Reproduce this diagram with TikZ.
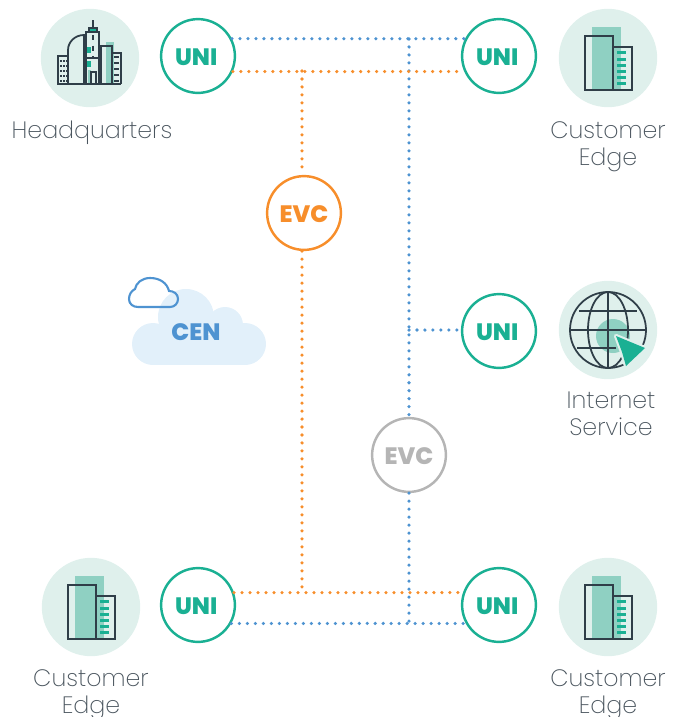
\documentclass[tikz,border=0pt]{standalone}
\usepackage{fontspec}
\setmainfont{Poppins ExtraLight}[BoldFont=Poppins ExtraBold]
\usetikzlibrary{positioning}

\definecolor{uniteal}{HTML}{1AB093}
\definecolor{disc}{HTML}{DFF0EC}
\definecolor{midteal}{HTML}{8FD0C2}
\definecolor{ink}{HTML}{2F3E48}
\definecolor{labelgrey}{HTML}{4A555E}
\definecolor{evcorange}{HTML}{F78E2B}
\definecolor{evcgrey}{HTML}{B5B5B5}
\definecolor{cenblue}{HTML}{4E93D1}
\definecolor{cloudfill}{HTML}{E2F0FA}

\newcommand{\unilbl}{UNI\kern2pt}

\tikzset{
	badge/.style={circle,draw,fill=white,line width=1.4pt,minimum size=42pt,inner sep=0pt,text height=10.4pt,text depth=0pt,font=\bfseries\fontsize{13.5}{13.5}\selectfont},
	uni/.style={badge,draw=uniteal,text=uniteal},
	iconbg/.style={circle,fill=disc,minimum size=56pt,inner sep=0pt},
	lbl/.style={text=labelgrey,align=center,font=\fontsize{13.5}{15.5}\selectfont},
	bluedots/.style={cenblue,line width=2pt,line cap=round,dash pattern=on 0pt off 4.55pt},
	orangedots/.style={bluedots,evcorange},
	towers/.pic={
		\fill [midteal] (-16,-31) rectangle (13,32);
		\draw [ink,line width=1pt] (-23,-22) rectangle (5,32);
		\draw [ink,line width=1pt] (5,-11) rectangle (24,32);
		\foreach \y in {-6,1,7,13,19,25}
			\fill [uniteal] (9,\y-1.5) rectangle (18,\y+1.5);
	},
	city/.pic={
		% teal behind
		\fill [midteal] (16,-16) rectangle (24,26);
		\fill [uniteal] (-3,-11) rectangle (1,-5);
		\fill [uniteal] (-3,3) rectangle (1,9);
		\fill [midteal] (-2,12) rectangle (1,26);
		\begin{scope}[ink,line width=1pt]
		\draw (-33,26) -- (31,26);
		\draw (-32,26) -- (-32,-2) -- (-22,-2) -- (-22,26);
		\draw (-22,26) -- (-22,-8) .. controls (-22,-16) and (-15,-23) .. (-6,-23) -- (-6,26);
		\draw (-4,26) -- (-4,-26) -- (9,-26) -- (9,26);
		\draw [fill=uniteal] (-1,-30) rectangle (7,-26);
		\draw (3,-38) -- (3,-30);
		\draw [dashed] (3,-23) -- (3,0);
		\draw (-6,0) -- (11,0);
		\draw (1,26) -- (1,14) -- (6,14) -- (6,26);
		\draw (11,26) -- (11,-12) -- (22,-12) -- (22,26);
		\draw (22,26) -- (22,-5) -- (31,-5) -- (31,26);
		\end{scope}
		\foreach \y in {-2,4,10,16,22}
			\fill [ink] (24,\y) rectangle (29,\y+1.6);
		\foreach \y in {2,7,12,17,22}
			\foreach \x in {-30,-27,-24}
				\fill [ink] (\x,\y) rectangle (\x+1.5,\y+1.8);
	},
	globe/.pic={
		\fill [midteal] (5,6) circle [radius=17];
		\begin{scope}[ink,line width=1pt]
		\draw (0,0) circle [radius=38];
		\draw (0,0) circle [x radius=20,y radius=38];
		\draw (0,-38) -- (0,38);
		\draw (-38,0) -- (38,0);
		\draw (-29,-19) -- (29,-19);
		\draw (-31,18) -- (8,18);
		\end{scope}
		\draw [disc,line width=2.4pt,line join=round] (8,6) -- (37,18) -- (18,36) -- (14,22) -- cycle;
		\fill [uniteal] (8,6) -- (37,18) -- (18,36) -- (14,22) -- cycle;
	}
}

\begin{document}
\begin{tikzpicture}[x=.02cm,y=-.02cm]
	\useasboundingbox (0,0) rectangle (685,717);

	% icons
	\node [iconbg] (hq) at (90,58) {};
	\node [iconbg] (cetr) at (608,58) {};
	\node [iconbg] (inet) at (608,330) {};
	\node [iconbg] (cebl) at (91,607) {};
	\node [iconbg] (cebr) at (608,607) {};
	\pic at (hq) {city};
	\pic at (cetr) {towers};
	\pic at (inet) {globe};
	\pic at (cebl) {towers};
	\pic at (cebr) {towers};

	% labels
	\node [lbl] (hqlbl) at (92,133) {Headquarters};
	\node [lbl] (cetrlbl) at (608,147) {Customer\\Edge};
	\node [lbl] (inetlbl) at (611,414) {Internet\\Service};
	\node [lbl] (cebllbl) at (91,695) {Customer\\Edge};
	\node [lbl] (cebrlbl) at (608,695) {Customer\\Edge};

	% cloud
	\fill [cloudfill] (153,344) circle [radius=21];
	\fill [cloudfill] (186,317) circle [radius=28];
	\fill [cloudfill] (225,325) circle [radius=18];
	\fill [cloudfill] (245,344) circle [radius=21];
	\fill [cloudfill] (153,335) rectangle (245,365);
	\node [font=\bfseries\fontsize{13.5}{13.5}\selectfont,text=cenblue] (cen) at (196,332) {CEN};
	\draw [cenblue,line width=1.2pt] (138,307) -- (170,307) .. controls (175,307) and (178,303) .. (178,299)
		.. controls (178,294) and (174,291) .. (169,291) .. controls (167,283) and (160,278) .. (150,278)
		.. controls (142,278) and (136,283) .. (135,289) .. controls (131,291) and (129,295) .. (129,299)
		.. controls (129,304) and (133,307) .. (138,307) -- cycle;

	% uni and evc
	\node [uni] (unitl) at (198,56) {\unilbl};
	\node [uni] (unitr) at (499,56) {\unilbl};
	\node [uni] (unimr) at (499,331) {\unilbl};
	\node [uni] (unibl) at (198,605) {\unilbl};
	\node [uni] (unibr) at (499,605) {\unilbl};
	\node [badge,draw=evcorange,text=evcorange] (evco) at (304,213) {EVC};
	\node [badge,draw=evcgrey,text=evcgrey] (evcg) at (409,455) {EVC};

	% junctions
	\coordinate (bt) at (409,39);
	\coordinate (bb) at (409,623);
	\coordinate (bm) at (409,330);
	\coordinate (ot) at (302,71);
	\coordinate (ob) at (302,593);

	% blue
	\draw [bluedots] (unitl.27) -- (unitr.153);
	\draw [bluedots] (unibl.-29) -- (unibr.209);
	\draw [bluedots] (bt) -- (evcg.north -| bt);
	\draw [bluedots] (evcg.south -| bt) -- (bb);
	\draw [bluedots] (bm) -- (unimr.west |- bm);

	% orange
	\draw [orangedots] (unitl.-24) -- (unitr.204);
	\draw [orangedots] (unibl.19) -- (unibr.161);
	\draw [orangedots] (ot) -- (evco.north -| ot);
	\draw [orangedots] (evco.south -| ot) -- (ob);
\end{tikzpicture}
\end{document}
